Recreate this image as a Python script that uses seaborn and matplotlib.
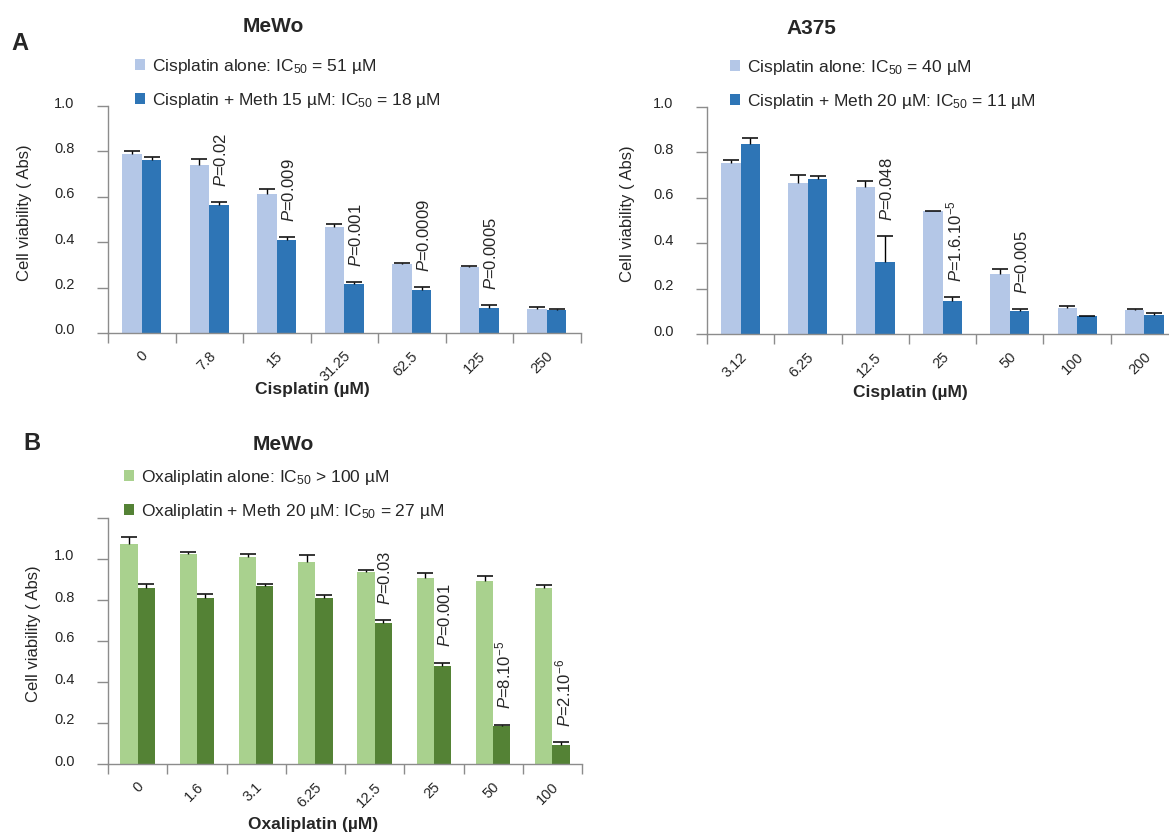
import numpy as np
import pandas as pd
import matplotlib.pyplot as plt
import seaborn as sns
from matplotlib.patches import Patch
from matplotlib.transforms import ScaledTranslation

# panel A, MeWo, cisplatin
mewo_doses = ["0", "7.8", "15", "31.25", "62.5", "125", "250"]
mewo_alone = [0.787, 0.739, 0.611, 0.465, 0.304, 0.292, 0.107]
mewo_alone_err = [0.016, 0.028, 0.024, 0.017, 0.004, 0.004, 0.008]
mewo_meth = [0.762, 0.562, 0.409, 0.217, 0.191, 0.111, 0.103]
mewo_meth_err = [0.012, 0.013, 0.013, 0.007, 0.010, 0.011, 0.002]
mewo_p = ["", "0.02", "0.009", "0.001", "0.0009", "0.0005", ""]

# panel A, A375, cisplatin
a375_doses = ["3.12", "6.25", "12.5", "25", "50", "100", "200"]
a375_alone = [0.755, 0.665, 0.646, 0.540, 0.265, 0.116, 0.104]
a375_alone_err = [0.011, 0.035, 0.027, 0.002, 0.023, 0.007, 0.007]
a375_meth = [0.839, 0.685, 0.319, 0.146, 0.100, 0.079, 0.082]
a375_meth_err = [0.023, 0.012, 0.113, 0.015, 0.011, 0.002, 0.010]
a375_p = ["", "", "0.048", "1.6.10$^{-5}$", "0.005", "", ""]

# panel B, MeWo, oxaliplatin
oxa_doses = ["0", "1.6", "3.1", "6.25", "12.5", "25", "50", "100"]
oxa_alone = [1.073, 1.024, 1.011, 0.984, 0.938, 0.907, 0.894, 0.858]
oxa_alone_err = [0.033, 0.008, 0.013, 0.036, 0.008, 0.024, 0.024, 0.015]
oxa_meth = [0.858, 0.812, 0.866, 0.809, 0.688, 0.476, 0.183, 0.091]
oxa_meth_err = [0.020, 0.018, 0.012, 0.015, 0.013, 0.018, 0.009, 0.015]
oxa_p = ["", "", "", "", "0.03", "0.001", "8.10$^{-5}$", "2.10$^{-6}$"]

blues = ["#b4c7e7", "#2e75b6"]
greens = ["#a9d18e", "#548235"]
GREY = "#8c8c8c"
TXT = "#262626"

sns.set_style("ticks")
plt.rcParams["font.family"] = ["Liberation Sans", "DejaVu Sans"]
plt.rcParams["mathtext.fontset"] = "custom"
plt.rcParams["mathtext.rm"] = "Liberation Sans"
plt.rcParams["mathtext.it"] = "Liberation Sans:italic"
plt.rcParams["mathtext.bf"] = "Liberation Sans:bold"

fig = plt.figure(figsize=(11.69, 8.32), dpi=100)
W, H = 1169, 832


def px_axes(l, t, r, b):
    return fig.add_axes([l / W, 1 - b / H, (r - l) / W, (b - t) / H])


def draw_panel(ax, doses, alone, alone_err, meth, meth_err, pvals, colors,
               ytop, xlabel, ylab_x, xlab_y):
    n = len(doses)
    df = pd.DataFrame({"dose": doses * 2,
                       "value": alone + meth,
                       "group": ["alone"] * n + ["meth"] * n})
    sns.barplot(data=df, x="dose", y="value", hue="group", palette=colors,
                width=0.58, gap=0, errorbar=None, legend=False, saturation=1,
                linewidth=0, ax=ax)
    # upper error bars only (one cap on top)
    meth_tops = None
    for cont, vals, errs in zip(ax.containers, [alone, meth], [alone_err, meth_err]):
        xs = np.array([b.get_x() + b.get_width() / 2 for b in cont])
        tops = np.array(vals) + np.array(errs)
        ax.vlines(xs, vals, tops, color="black", lw=1, zorder=5)
        ax.plot(xs, tops, ls="none", marker="_", ms=11, mew=1.1, color="black", zorder=5)
        meth_tops = (xs, tops)
    for x, top, p in zip(meth_tops[0], meth_tops[1], pvals):
        if p:
            ax.annotate(r"$\mathit{P}$=" + p, (x, top), xytext=(1.5, 11),
                        textcoords="offset points", rotation=90, ha="center",
                        va="bottom", fontsize=12, color=TXT)

    ax.set_xlim(-0.5, n - 0.5)
    ax.set_ylim(0, ytop)
    yt = np.arange(0, ytop + 0.001, 0.2)
    ax.set_yticks(yt)
    ax.set_yticklabels([f"{v:.1f}" if v <= 1.001 else "" for v in yt])
    ax.set_xticks(np.arange(n + 1) - 0.5, minor=True)
    ax.set_xticks(np.arange(n))
    ax.set_xticklabels(doses, rotation=45, ha="right", va="center",
                       rotation_mode="anchor")
    ax.tick_params(axis="x", which="major", length=0, pad=15, labelsize=10.5,
                   labelcolor=TXT)
    ax.tick_params(axis="x", which="minor", length=7, width=1, color=GREY)
    ax.tick_params(axis="y", length=8, width=1, color=GREY, pad=16,
                   labelsize=10.5, labelcolor=TXT)
    shift_x = ScaledTranslation(4 / 100, 0, fig.dpi_scale_trans)
    for lab in ax.get_xticklabels():
        lab.set_transform(lab.get_transform() + shift_x)
    shift_y = ScaledTranslation(0, 4 / 100, fig.dpi_scale_trans)
    for lab in ax.get_yticklabels():
        lab.set_transform(lab.get_transform() + shift_y)
    sns.despine(ax=ax)
    for s in ["left", "bottom"]:
        ax.spines[s].set_color(GREY)
        ax.spines[s].set_linewidth(1)
    ax.set_ylabel("Cell viability ( Abs)", fontsize=12, color=TXT)
    ax.yaxis.set_label_coords(ylab_x, 0.53)
    ax.set_xlabel(xlabel, fontsize=12.5, fontweight="bold", color=TXT)
    ax.xaxis.set_label_coords(0.432, xlab_y)


def add_legend(ax, colors, labels, x, y):
    handles = [Patch(facecolor=c, edgecolor="none") for c in colors]
    ax.legend(handles, labels, loc="upper left", bbox_to_anchor=(x / W, 1 - y / H),
              bbox_transform=fig.transFigure, frameon=False, fontsize=12.5,
              handlelength=0.6, handleheight=0.6, handletextpad=0.4,
              labelspacing=0.85, borderpad=0, borderaxespad=0, labelcolor=TXT)


ax1 = px_axes(108, 106, 580.5, 333)
draw_panel(ax1, mewo_doses, mewo_alone, mewo_alone_err, mewo_meth, mewo_meth_err,
           mewo_p, blues, 1.0, "Cisplatin (µM)", -0.16, -0.215)
add_legend(ax1, blues, ["Cisplatin alone: IC$_{50}$ = 51 µM",
                        "Cisplatin + Meth 15 µM: IC$_{50}$ = 18 µM"], 135, 57)

ax2 = px_axes(707, 107, 1178, 334)
draw_panel(ax2, a375_doses, a375_alone, a375_alone_err, a375_meth, a375_meth_err,
           a375_p, blues, 1.0, "Cisplatin (µM)", -0.153, -0.225)
add_legend(ax2, blues, ["Cisplatin alone: IC$_{50}$ = 40 µM",
                        "Cisplatin + Meth 20 µM: IC$_{50}$ = 11 µM"], 730, 58)

ax3 = px_axes(108, 518, 582, 764)
draw_panel(ax3, oxa_doses, oxa_alone, oxa_alone_err, oxa_meth, oxa_meth_err,
           oxa_p, greens, 1.2, "Oxaliplatin (µM)", -0.141, -0.215)
add_legend(ax3, greens, ["Oxaliplatin alone: IC$_{50}$ > 100 µM",
                         "Oxaliplatin + Meth 20 µM: IC$_{50}$ = 27 µM"], 124, 468)

fig.text(273 / W, 1 - 27 / H, "MeWo", fontsize=15, fontweight="bold", ha="center", va="center")
fig.text(811 / W, 1 - 28 / H, "A375", fontsize=15, fontweight="bold", ha="center", va="center")
fig.text(283 / W, 1 - 444 / H, "MeWo", fontsize=15, fontweight="bold", ha="center", va="center")
fig.text(20 / W, 1 - 43 / H, "A", fontsize=17, fontweight="bold", ha="center", va="center")
fig.text(32 / W, 1 - 444 / H, "B", fontsize=17, fontweight="bold", ha="center", va="center")

fig.savefig("out.png", dpi=100)
